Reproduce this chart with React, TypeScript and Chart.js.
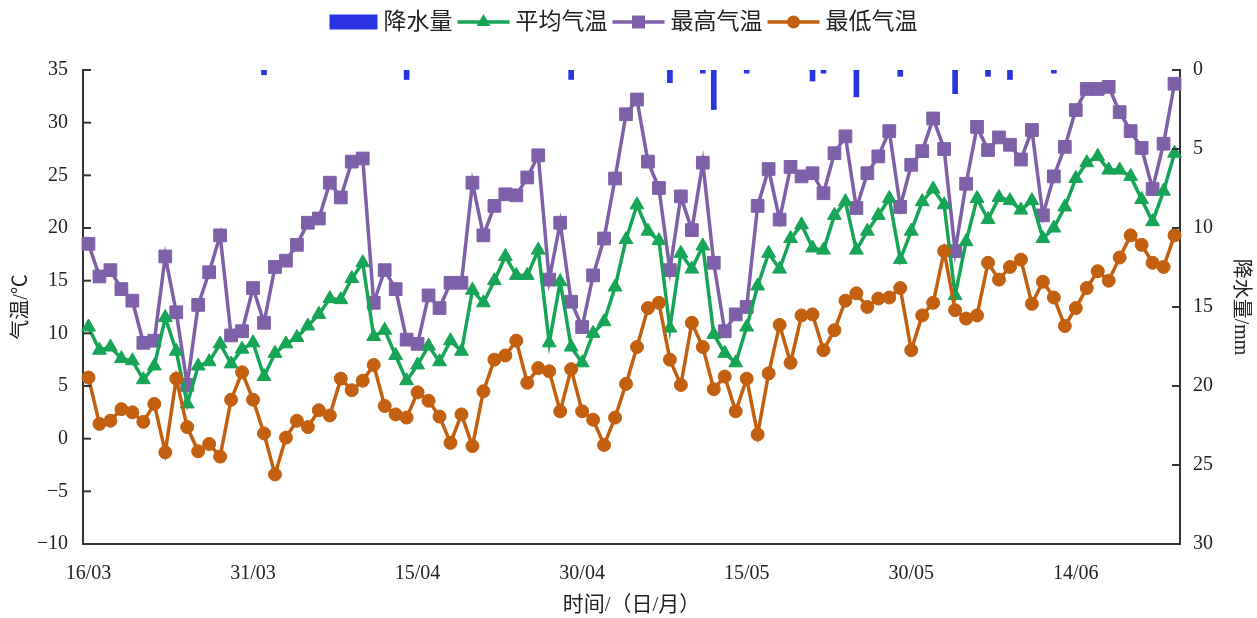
/** @jsxRuntime classic */
import * as React from 'react';
import { Chart, registerables } from 'chart.js';

Chart.register(...registerables);

const FONT = '"Liberation Serif", "Noto Sans CJK SC", serif';

// 16/03 .. 23/06, one label per day
const MONTH_DAYS = [0, 31, 28, 31, 30, 31, 30, 31];
const dates: string[] = [];
{
  let m = 3;
  let d = 16;
  for (let i = 0; i < 100; i++) {
    dates.push(String(d).padStart(2, '0') + '/' + String(m).padStart(2, '0'));
    d++;
    if (d > MONTH_DAYS[m]) { d = 1; m++; }
  }
}

const precipitation = [
  0, 0, 0, 0, 0, 0, 0, 0, 0, 0,
  0, 0, 0, 0, 0, 0, 0.3, 0, 0, 0,
  0, 0, 0, 0, 0, 0, 0, 0, 0, 0.6,
  0, 0, 0, 0, 0, 0, 0, 0, 0, 0,
  0, 0, 0, 0, 0.6, 0, 0, 0, 0, 0,
  0, 0, 0, 0.8, 0, 0, 0.2, 2.5, 0, 0,
  0.2, 0, 0, 0, 0, 0, 0.7, 0.2, 0, 0,
  1.7, 0, 0, 0, 0.4, 0, 0, 0, 0, 1.5,
  0, 0, 0.4, 0, 0.6, 0, 0, 0, 0.2, 0,
  0, 0, 0, 0, 0, 0, 0, 0, 0, 0,
];

const meanTemp = [
  10.6, 8.4, 8.7, 7.6, 7.4, 5.6, 6.9, 11.5, 8.3, 3.3,
  6.9, 7.3, 9.0, 7.1, 8.5, 9.1, 5.9, 8.1, 9.0, 9.6,
  10.7, 11.8, 13.3, 13.2, 15.2, 16.7, 9.7, 10.3, 7.9, 5.5,
  7.0, 8.8, 7.3, 9.3, 8.3, 14.1, 12.9, 15.0, 17.3, 15.5,
  15.5, 17.9, 9.1, 14.9, 8.7, 7.2, 10.0, 11.1, 14.4, 18.9,
  22.2, 19.7, 18.8, 10.5, 17.6, 16.1, 18.3, 9.9, 8.1, 7.2,
  10.6, 14.5, 17.6, 16.1, 19.0, 20.3, 18.1, 17.9, 21.2, 22.5,
  17.9, 19.7, 21.2, 22.8, 17.0, 19.7, 22.5, 23.7, 22.2, 13.6,
  18.7, 22.8, 20.8, 22.9, 22.6, 21.7, 22.6, 19.0, 20.0, 22.0,
  24.7, 26.2, 26.8, 25.5, 25.5, 24.9, 22.7, 20.6, 23.5, 27.1,
];

const maxTemp = [
  18.5, 15.4, 16.0, 14.2, 13.1, 9.1, 9.3, 17.3, 12.0, 5.1,
  12.7, 15.8, 19.3, 9.8, 10.2, 14.3, 11.0, 16.3, 16.9, 18.4,
  20.5, 20.9, 24.3, 22.9, 26.3, 26.6, 12.9, 16.0, 14.2, 9.4,
  9.0, 13.6, 12.4, 14.8, 14.8, 24.3, 19.3, 22.1, 23.2, 23.1,
  24.8, 26.9, 15.1, 20.5, 13.0, 10.6, 15.5, 19.0, 24.7, 30.8,
  32.2, 26.3, 23.8, 16.0, 23.0, 19.8, 26.2, 16.7, 10.2, 11.8,
  12.5, 22.1, 25.6, 20.8, 25.8, 24.9, 25.2, 23.3, 27.1, 28.7,
  21.9, 25.2, 26.8, 29.2, 22.0, 26.0, 27.3, 30.4, 27.5, 17.8,
  24.2, 29.6, 27.4, 28.6, 27.9, 26.5, 29.3, 21.2, 24.9, 27.7,
  31.2, 33.2, 33.2, 33.4, 31.0, 29.2, 27.6, 23.7, 28.0, 33.7,
];

const minTemp = [
  5.8, 1.4, 1.7, 2.8, 2.5, 1.6, 3.3, -1.3, 5.7, 1.1,
  -1.2, -0.5, -1.7, 3.7, 6.3, 3.7, 0.5, -3.4, 0.1, 1.7,
  1.1, 2.7, 2.2, 5.7, 4.6, 5.5, 7.0, 3.1, 2.3, 2.0,
  4.4, 3.6, 2.1, -0.4, 2.3, -0.7, 4.5, 7.5, 7.9, 9.3,
  5.3, 6.7, 6.4, 2.6, 6.6, 2.6, 1.8, -0.6, 2.0, 5.2,
  8.7, 12.4, 12.9, 7.5, 5.1, 11.0, 8.7, 4.7, 5.9, 2.6,
  5.7, 0.4, 6.2, 10.8, 7.2, 11.7, 11.8, 8.4, 10.3, 13.1,
  13.8, 12.5, 13.3, 13.4, 14.3, 8.4, 11.7, 12.9, 17.8, 12.2,
  11.4, 11.7, 16.7, 15.1, 16.3, 17.0, 12.8, 14.9, 13.4, 10.7,
  12.4, 14.3, 15.9, 15.0, 17.2, 19.3, 18.4, 16.7, 16.3, 19.3,
];

const BLUE = '#2a33e0';
const GREEN = '#16a456';
const PURPLE = '#7e60a8';
const ORANGE = '#c2600f';
const AXIS = '#333333';

function drawMarker(ctx: CanvasRenderingContext2D, style: string, x: number, y: number, color: string) {
  ctx.fillStyle = color;
  ctx.beginPath();
  if (style === 'triangle') {
    const r = 8;
    ctx.moveTo(x, y - r);
    ctx.lineTo(x + r * 0.866, y + r * 0.5);
    ctx.lineTo(x - r * 0.866, y + r * 0.5);
    ctx.closePath();
  } else if (style === 'rect') {
    ctx.rect(x - 6.5, y - 6.5, 13, 13);
  } else {
    ctx.arc(x, y, 6.5, 0, Math.PI * 2);
  }
  ctx.fill();
}

// legend with line + marker symbols, centred above the plot
const legendPlugin = {
  id: 'lineMarkerLegend',
  afterDraw(chart: any) {
    const ctx: CanvasRenderingContext2D = chart.ctx;
    ctx.save();
    ctx.font = '23px ' + FONT;
    ctx.textBaseline = 'middle';
    const ds = chart.data.datasets;
    const symW = (d: any) => (d.type === 'bar' ? 48 : 52);
    let total = 0;
    ds.forEach((d: any, i: number) => {
      total += symW(d) + 6 + ctx.measureText(d.label).width + (i < ds.length - 1 ? 5 : 0);
    });
    let x = chart.width / 2 - 5 - total / 2;
    const y = 22;
    ds.forEach((d: any) => {
      const w = symW(d);
      if (d.type === 'bar') {
        ctx.fillStyle = d.backgroundColor;
        ctx.fillRect(x, y - 7.5, w, 15);
      } else {
        ctx.strokeStyle = d.borderColor;
        ctx.lineWidth = 3.5;
        ctx.beginPath();
        ctx.moveTo(x, y);
        ctx.lineTo(x + w, y);
        ctx.stroke();
        drawMarker(ctx, d.pointStyle, x + w / 2, y, d.borderColor);
      }
      x += w + 6;
      ctx.fillStyle = '#222';
      ctx.fillText(d.label, x, y + 1);
      x += ctx.measureText(d.label).width + 5;
    });
    ctx.restore();
  },
};

// tick marks pointing into the plot on both value axes
const innerTicksPlugin = {
  id: 'innerTicks',
  afterDraw(chart: any) {
    const ctx: CanvasRenderingContext2D = chart.ctx;
    ctx.save();
    ctx.strokeStyle = AXIS;
    ctx.lineWidth = 2;
    const left = chart.scales.y;
    const right = chart.scales.y1;
    left.ticks.forEach((t: any) => {
      const py = left.getPixelForValue(t.value);
      ctx.beginPath();
      ctx.moveTo(left.right, py);
      ctx.lineTo(left.right + 8, py);
      ctx.stroke();
    });
    right.ticks.forEach((t: any) => {
      const py = right.getPixelForValue(t.value);
      ctx.beginPath();
      ctx.moveTo(right.left - 8, py);
      ctx.lineTo(right.left, py);
      ctx.stroke();
    });
    ctx.restore();
  },
};

const minus = (v: number) => (v < 0 ? '\u2212' + Math.abs(v) : String(v));

const App = () => {
  const canvasRef = React.useRef<HTMLCanvasElement>(null);
  const chartRef = React.useRef<Chart | null>(null);

  React.useEffect(() => {
    document.body.style.margin = '0';
    if (!canvasRef.current) return;
    if (chartRef.current) chartRef.current.destroy();

    const lineDs = (label: string, data: number[], color: string, pointStyle: string, radius: number) => ({
      type: 'line' as const,
      label,
      data,
      yAxisID: 'y',
      borderColor: color,
      backgroundColor: color,
      borderWidth: 3.5,
      pointStyle,
      pointRadius: radius,
      pointBorderWidth: 1,
      pointBorderColor: color,
      pointBackgroundColor: color,
      tension: 0,
    });

    chartRef.current = new Chart(canvasRef.current, {
      type: 'bar',
      data: {
        labels: dates,
        datasets: [
          {
            type: 'bar',
            label: '降水量',
            // dry days carry no bar at all
            data: precipitation.map((v) => (v > 0 ? v : null)),
            yAxisID: 'y1',
            backgroundColor: BLUE,
            barThickness: 5,
            order: 4,
          } as any,
          { ...lineDs('平均气温', meanTemp, GREEN, 'triangle', 8), order: 2 },
          { ...lineDs('最高气温', maxTemp, PURPLE, 'rect', 9), order: 3 },
          { ...lineDs('最低气温', minTemp, ORANGE, 'circle', 6.5), order: 1 },
        ],
      },
      options: {
        responsive: false,
        animation: false,
        layout: { padding: { top: 70, left: 0, right: 0, bottom: 0 } },
        plugins: {
          legend: { display: false },
          tooltip: { enabled: false },
        },
        scales: {
          x: {
            offset: true,
            grid: { display: false, drawTicks: false },
            border: { display: true, color: AXIS, width: 2 },
            ticks: {
              autoSkip: false,
              maxRotation: 0,
              padding: 18,
              color: '#222',
              font: { family: FONT, size: 20 },
              callback: (_v: any, i: number) => (i % 15 === 0 ? dates[i] : ''),
            },
            title: {
              display: true,
              text: '时间/（日/月）',
              color: '#222',
              font: { family: FONT, size: 21 },
              padding: { top: 0, bottom: 0 },
            },
            afterFit: (s: any) => { s.height = 74; },
          },
          y: {
            position: 'left',
            min: -10,
            max: 35,
            grid: { display: false, drawTicks: false },
            border: { display: true, color: AXIS, width: 2 },
            ticks: {
              stepSize: 5,
              padding: 15,
              color: '#222',
              font: { family: FONT, size: 20 },
              callback: (v: any) => minus(Number(v)),
            },
            title: {
              display: true,
              text: '气温/℃',
              color: '#222',
              font: { family: FONT, size: 20 },
              padding: { top: 10, bottom: 0 },
            },
            afterFit: (s: any) => { s.width = 83; },
          },
          y1: {
            position: 'right',
            min: 0,
            max: 30,
            reverse: true,
            grid: { display: false, drawTicks: false },
            border: { display: true, color: AXIS, width: 2 },
            ticks: {
              stepSize: 5,
              padding: 13,
              color: '#222',
              font: { family: FONT, size: 20 },
            },
            title: {
              display: true,
              text: '降水量/mm',
              color: '#222',
              font: { family: FONT, size: 20 },
              padding: { top: 5, bottom: 0 },
            },
            afterFit: (s: any) => { s.width = 77; },
          },
        },
      } as any,
      plugins: [legendPlugin, innerTicksPlugin],
    });

    return () => {
      if (chartRef.current) {
        chartRef.current.destroy();
        chartRef.current = null;
      }
    };
  }, []);

  return (
    <div style={{ width: 1257, height: 618, background: '#fff' }}>
      <canvas ref={canvasRef} width={1257} height={618}></canvas>
    </div>
  );
};

export default App;
